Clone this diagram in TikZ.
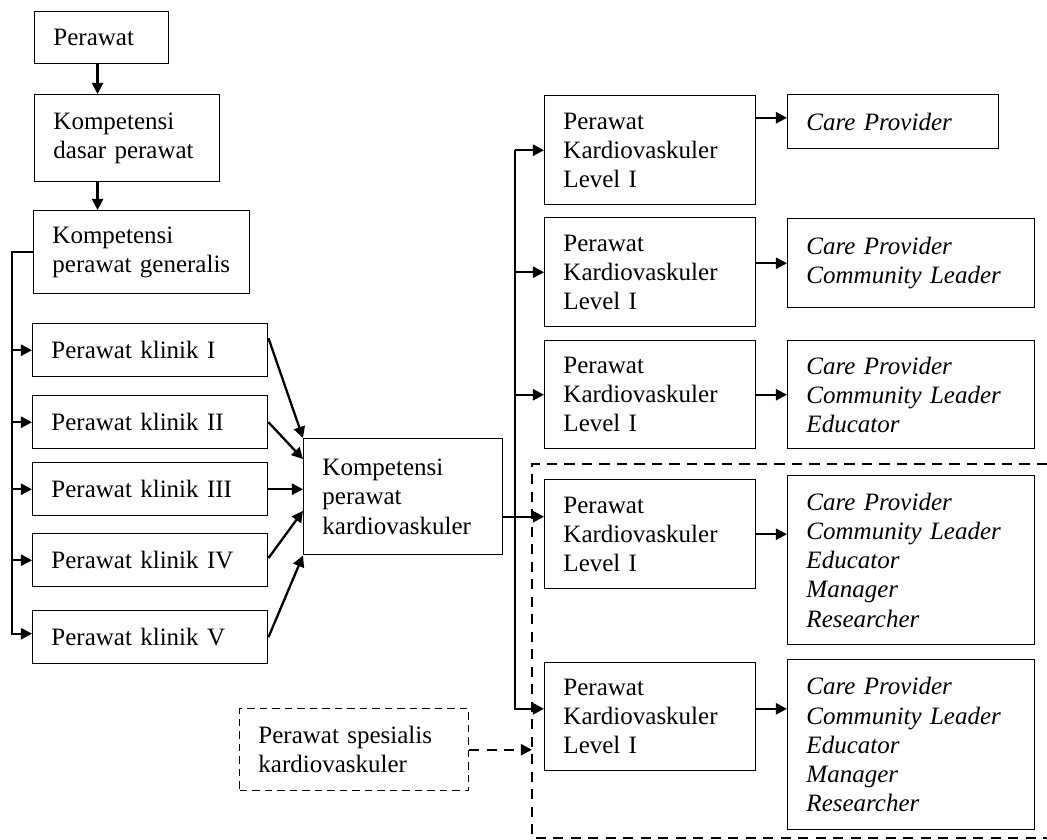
\documentclass[tikz,border=0pt]{standalone}
\usepackage{fontspec}
\setmainfont{Liberation Serif}
\usetikzlibrary{arrows.meta,calc}
\tikzset{
        % Solid boxes, size given in picture units
        node_box/.style 2 args={draw, line width=0.7pt, anchor=north west, align=left,
            inner xsep=9pt, inner ysep=0pt,
            minimum width=#1*0.48pt, minimum height=#2*0.48pt, text width=#1*0.48pt-18pt,
            font=\fontsize{12}{14}\selectfont},
        % Role boxes
        node_role/.style 2 args={node_box={#1}{#2}, font=\fontsize{12}{14}\selectfont\itshape},
        % Dashed boxes
        node_dashed/.style 2 args={node_box={#1}{#2}, dash pattern=on 3.6pt off 2.4pt},
        % Connectors
        link/.style={line width=1.1pt},
        arr/.style={link, -{Triangle[length=5.4pt,width=5.4pt]}},
        region/.style={line width=1.05pt, dash pattern=on 5pt off 3.4pt}
}
\begin{document}
\begin{tikzpicture}[x=0.48pt, y=-0.48pt]
    \useasboundingbox (0,0) rectangle (1047,840);

    \node[node_box={134}{52}] (perawat) at (34,11) {Perawat};
    \node[node_box={185}{87}] (dasar) at (34,94) {Kompetensi\\dasar perawat};
    \node[node_box={216}{83}] (generalis) at (33,210) {Kompetensi\\perawat generalis};

    \node[node_box={235}{53}] (klinik1) at (32,323) {Perawat klinik I};
    \node[node_box={235}{53}] (klinik2) at (32,395) {Perawat klinik II};
    \node[node_box={235}{53}] (klinik3) at (32,462) {Perawat klinik III};
    \node[node_box={235}{53}] (klinik4) at (32,533) {Perawat klinik IV};
    \node[node_box={235}{53}] (klinik5) at (32,610) {Perawat klinik V};

    \node[node_box={199}{116}] (kardio) at (303,438) {Kompetensi\\perawat\\kardiovaskuler};
    \node[node_dashed={229}{82}] (spesialis) at (239,708) {Perawat spesialis\\kardiovaskuler};

    \node[node_box={211}{109}] (level1) at (544,95) {Perawat\\Kardiovaskuler\\Level I};
    \node[node_box={211}{109}] (level2) at (544,217) {Perawat\\Kardiovaskuler\\Level I};
    \node[node_box={211}{108}] (level3) at (544,340) {Perawat\\Kardiovaskuler\\Level I};
    \node[node_box={211}{109}] (level4) at (544,479) {Perawat\\Kardiovaskuler\\Level I};
    \node[node_box={211}{108}] (level5) at (544,662) {Perawat\\Kardiovaskuler\\Level I};

    \node[node_role={211}{54}] (role1) at (787,94) {Care Provider};
    \node[node_role={247}{89}] (role2) at (787,218) {Care Provider\\Community Leader};
    \node[node_role={247}{108}] (role3) at (787,340) {Care Provider\\Community Leader\\Educator};
    \node[node_role={247}{169}] (role4) at (787,475)
        {Care Provider\\Community Leader\\Educator\\Manager\\Researcher};
    \node[node_role={247}{170}] (role5) at (787,659)
        {Care Provider\\Community Leader\\Educator\\Manager\\Researcher};

    % dashed region round the last two levels
    \draw[region] (1047,464) -- (532,464) coordinate (region_corner) -- (532,838) -- (1047,838);

    \draw[arr] ([xshift=-2pt]perawat.south) -- ([xshift=-2pt]perawat.south |- dasar.north);
    \draw[arr] ([xshift=-2pt]perawat.south |- dasar.south) -- ([xshift=-2pt]perawat.south |- generalis.north);

    % left trunk to the clinical levels
    \coordinate (left_trunk) at (12,251);
    \draw[arr] (generalis.west) -- (generalis.west -| left_trunk) |- ([yshift=1.7pt]klinik5.west);
    \draw[arr] (klinik1.west -| left_trunk) -- (klinik1.west);
    \draw[arr] (klinik2.west -| left_trunk) -- (klinik2.west);
    \draw[arr] (klinik3.west -| left_trunk) -- (klinik3.west);
    \draw[arr] (klinik4.west -| left_trunk) -- (klinik4.west);

    \draw[arr] ([yshift=5.8pt]klinik1.east) -- (kardio.north west);
    \draw[arr] (klinik2.east) -- ($(kardio.north west)!0.18!(kardio.south west)$);
    \draw[arr] (klinik3.east) -- (klinik3.east -| kardio.west);
    \draw[arr] ([yshift=1pt]klinik4.east) -- ($(kardio.north west)!0.62!(kardio.south west)$);
    \draw[arr] (klinik5.east) -- (kardio.south west);

    % right trunk to the cardiovascular levels
    \coordinate (right_trunk) at (515,149);
    \draw[arr] ([yshift=-9.6pt]kardio.east) -- ([yshift=-9.6pt]kardio.east -| level4.west);
    \draw[arr] (level1.west -| right_trunk) -- (level1.west);
    \draw[arr] (level1.west -| right_trunk) |- ([yshift=3.8pt]level5.west);
    \draw[arr] (level2.west -| right_trunk) -- (level2.west);
    \draw[arr] (level3.west -| right_trunk) -- (level3.west);

    \draw[arr,dash pattern=on 4.8pt off 3.4pt] (spesialis.east) -- (spesialis.east -| region_corner);

    \draw[arr] ([yshift=1.9pt]level1.east |- role1.west) -- ([yshift=1.9pt]role1.west);
    \draw[arr] (level2.east |- role2.west) -- (role2.west);
    \draw[arr] (level3.east) -- (level3.east -| role3.west);
    \draw[arr] (level4.east) -- (level4.east -| role4.west);
    \draw[arr] ([yshift=3.8pt]level5.east) -- ([yshift=3.8pt]level5.east -| role5.west);
\end{tikzpicture}
\end{document}
